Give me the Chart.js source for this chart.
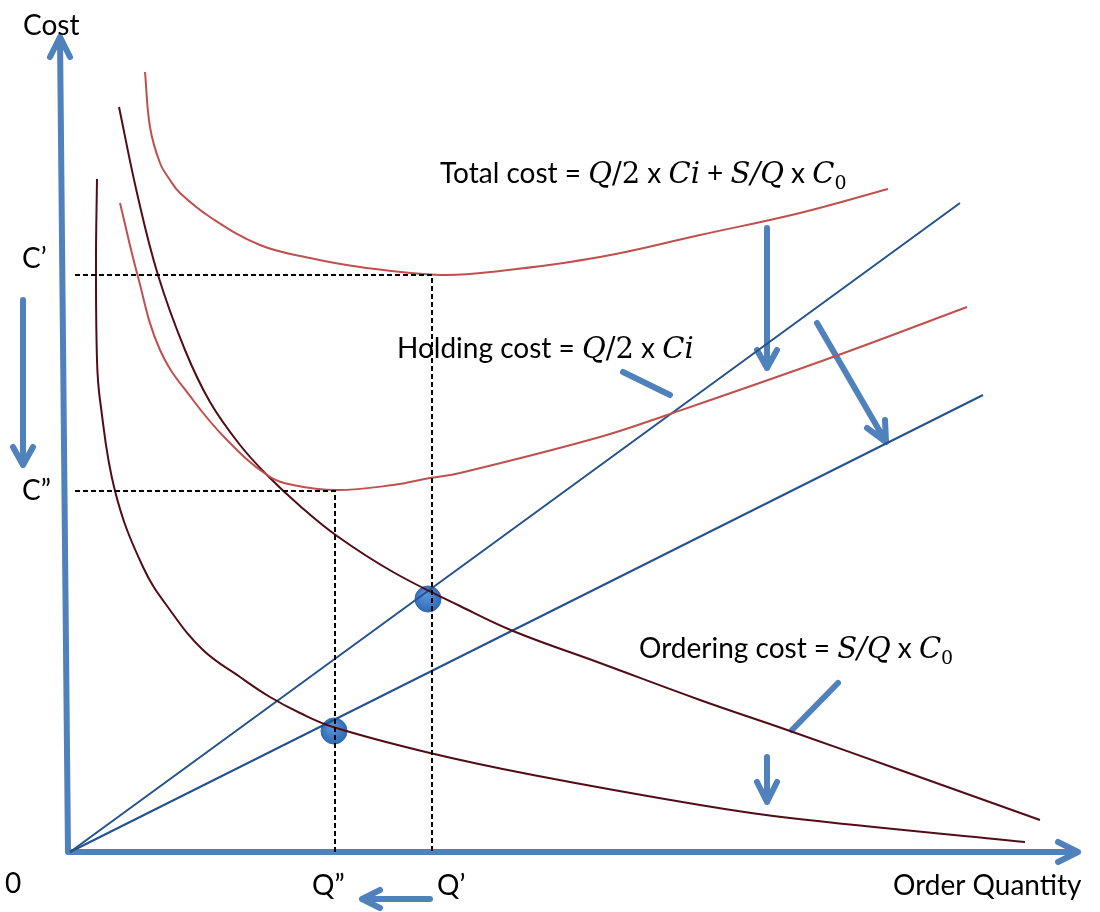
<!DOCTYPE html>
<html>
<head>
<meta charset="utf-8">
<title>EOQ cost curves</title>
<script src="https://cdn.jsdelivr.net/npm/chart.js@4.4.1/dist/chart.umd.min.js"></script>
<style>
  body { margin: 0; background: #fff; }
  canvas { display: block; }
</style>
</head>
<body>
<canvas id="eoqChart" width="1100" height="912"></canvas>
<script>
// everything measured from the origin: Q to the right, cost upwards

// total cost, before and after
const totalQ1 = [75, 80, 90, 100, 110, 140, 190, 240, 290, 370, 430, 530, 630, 730, 818];
const totalC1 = [780, 725, 689, 672, 659, 635, 607, 594, 585, 577, 581, 595, 617, 639, 663];
const totalQ2 = [50, 67, 90, 123, 157, 197, 223, 267, 323, 360, 390, 530, 597, 763, 897];
const totalC2 = [649, 579, 502, 452, 412, 377, 367, 362, 367, 374, 379, 415, 437, 495, 545];

// ordering cost, before and after
const orderQ1 = [49, 67, 88, 115, 140, 170, 197, 230, 267, 323, 390, 443, 530, 630, 720, 830, 970];
const orderC1 = [745, 659, 577, 502, 450, 407, 377, 346, 316, 280, 246, 221, 189, 152, 121, 82, 32];
const orderQ2 = [27, 26, 27, 30, 45, 73, 100, 133, 170, 200, 230, 263, 360, 463, 630, 720, 955];
const orderC2 = [673, 592, 492, 452, 361, 285, 242, 202, 175, 155, 139, 125, 99, 77, 47, 34, 10];

// holding cost lines
const holdQ1 = [0, 890];
const holdC1 = [0, 649];
const holdQ2 = [0, 913];
const holdC2 = [0, 457];

// where holding meets ordering
const eoqQ = [358, 264];
const eoqC = [253, 121];

// C', C'' and Q', Q''
const costLevels = [577, 361];
const qLevels = [362, 265];

// axes and the thick arrows (start, tip, wing, tip, wing)
const yAxisQ = [-2, -10, -20, -10, 0];
const yAxisC = [0, 815, 795, 815, 795];
const xAxisQ = [0, 1008, 988, 1008, 988];
const xAxisC = [0, 0, 10, 0, -10];
const arrowsQ = [
    [-47, -47, -57, -47, -37],
    [360, 292, 310, 292, 310],
    [697, 697, 687, 697, 707],
    [747, 816, 797, 816, 815],
    [553, 600],
    [768, 722],
    [697, 697, 687, 697, 707]
];
const arrowsC = [
    [552, 387, 405, 387, 405],
    [-47, -47, -38, -47, -56],
    [624, 484, 502, 484, 502],
    [529, 410, 424, 410, 432],
    [480, 457],
    [169, 122],
    [95, 50, 70, 50, 70]
];

function pts(xs, ys) {
    return xs.map((x, i) => ({ x: x, y: ys[i] }));
}

const RED = "#c0504d";
const DARK = "#520c16";
const NAVY = "#24528c";
const BLUE = "#4f81bd";

function curve(xs, ys, color) {
    return {
        data: pts(xs, ys),
        borderColor: color,
        borderWidth: 2,
        pointRadius: 0,
        tension: 0.4
    };
}

function thick(xs, ys) {
    return {
        data: pts(xs, ys),
        borderColor: BLUE,
        borderWidth: 6,
        pointRadius: 0,
        borderCapStyle: "round",
        borderJoinStyle: "round",
        tension: 0
    };
}

function dashed(q, c) {
    return {
        data: [{ x: 5, y: c }, { x: q, y: c }, { x: q, y: 0 }],
        borderColor: "#000",
        borderWidth: 2,
        borderDash: [5, 3],
        pointRadius: 0,
        tension: 0
    };
}

// shaded ball for the two EOQ points
function ballFill(context) {
    const c = context.chart;
    if (!context.parsed || !c.scales.x || !c.scales.y) {
        return "#3b7acb";
    }
    const px = c.scales.x.getPixelForValue(context.parsed.x);
    const py = c.scales.y.getPixelForValue(context.parsed.y);
    if (!isFinite(px) || !isFinite(py)) {
        return "#3b7acb";
    }
    const g = c.ctx.createRadialGradient(px - 3, py - 5, 1, px, py, 14);
    g.addColorStop(0, "#5b95dc");
    g.addColorStop(1, "#2d68b4");
    return g;
}

const datasets = [
    dashed(qLevels[0], costLevels[0]),
    dashed(qLevels[1], costLevels[1]),
    curve(totalQ1, totalC1, RED),
    curve(totalQ2, totalC2, RED),
    curve(orderQ1, orderC1, DARK),
    curve(orderQ2, orderC2, DARK),
    curve(holdQ1, holdC1, NAVY),
    curve(holdQ2, holdC2, NAVY),
    thick(yAxisQ, yAxisC),
    thick(xAxisQ, xAxisC)
];
arrowsQ.forEach((q, i) => datasets.push(thick(q, arrowsC[i])));
datasets.push({
    data: pts(eoqQ, eoqC),
    showLine: false,
    pointRadius: 13,
    pointBackgroundColor: ballFill,
    pointBorderColor: "#2f68ad",
    pointBorderWidth: 1
});

// text labels
const TXT = "28px Lato";
const MI = "italic 29px 'DejaVu Serif'";
const MU = "29px 'DejaVu Serif'";
const SUB = "19px 'DejaVu Serif'";

const labels = [
    { x: -47, y: 817, runs: [["Cost", TXT]] },
    { x: -48, y: 584, runs: [["C\u2019", TXT]] },
    { x: -48, y: 352, runs: [["C\u201D", TXT]] },
    { x: -65, y: -41, runs: [["0", TXT]] },
    { x: 242, y: -43, runs: [["Q\u201D", TXT]] },
    { x: 367, y: -43, runs: [["Q\u2019", TXT]] },
    { x: 823, y: -43, runs: [["Order Quantity", TXT]] },
    { x: 370, y: 669, runs: [["Total cost = ", TXT], ["Q", MI], ["/2", MU], [" x ", TXT], ["Ci", MI],
        [" + ", TXT], ["S/Q", MI], [" x ", TXT], ["C", MI], ["0", SUB, 6]] },
    { x: 327, y: 494, runs: [["Holding cost = ", TXT], ["Q", MI], ["/2", MU], [" x ", TXT], ["Ci", MI]] },
    { x: 569, y: 194, runs: [["Ordering cost = ", TXT], ["S/Q", MI], [" x ", TXT], ["C", MI], ["0", SUB, 6]] }
];

const textPlugin = {
    id: "texts",
    afterDatasetsDraw(chart) {
        const ctx = chart.ctx;
        const sx = chart.scales.x;
        const sy = chart.scales.y;
        ctx.save();
        ctx.fillStyle = "#000";
        ctx.textBaseline = "alphabetic";
        labels.forEach(l => {
            let px = sx.getPixelForValue(l.x);
            const py = sy.getPixelForValue(l.y);
            l.runs.forEach(r => {
                ctx.font = r[1];
                ctx.fillText(r[0], px, py + (r[2] || 0));
                px += ctx.measureText(r[0]).width;
            });
        });
        ctx.restore();
    }
};

new Chart(document.getElementById("eoqChart"), {
    type: "line",
    data: { datasets: datasets },
    options: {
        responsive: false,
        animation: false,
        layout: { padding: 0, autoPadding: false },
        plugins: { legend: { display: false }, tooltip: { enabled: false } },
        elements: { line: { fill: false } },
        datasets: { line: { clip: false } },
        scales: {
            x: { type: "linear", min: -70, max: 1030, display: false },
            y: { type: "linear", min: -60, max: 852, display: false }
        }
    },
    plugins: [textPlugin]
});
</script>
</body>
</html>
